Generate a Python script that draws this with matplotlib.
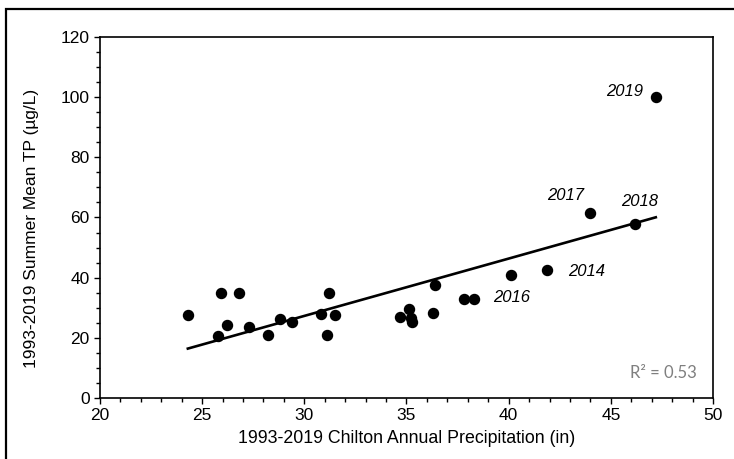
import numpy as np
import matplotlib.pyplot as plt
from matplotlib.patches import Rectangle
from matplotlib.ticker import MultipleLocator

plt.rcParams['font.family'] = ['Liberation Sans', 'DejaVu Sans']

# annual precipitation (in) and summer mean TP (ug/L), 1993-2019
precip = [24.3, 25.9, 26.8, 26.2, 25.8, 27.3, 28.2, 28.8, 29.4, 30.8, 31.2, 31.5, 31.1,
          34.7, 35.1, 35.25, 35.2, 36.4, 36.3, 37.8, 38.3, 40.1, 41.9, 44.0, 46.2, 47.2]
tp = [27.6, 35.0, 35.0, 24.2, 20.6, 23.5, 20.9, 26.2, 25.3, 27.9, 34.8, 27.5, 20.9,
      27.0, 29.5, 25.4, 26.5, 37.5, 28.2, 32.9, 32.9, 40.8, 42.7, 61.4, 57.8, 99.9]

year_labels = ['2019', '2017', '2018', '2014', '2016']
label_x = [44.75, 41.9, 45.5, 42.9, 39.25]
label_y = [101.8, 67.2, 65.2, 41.9, 33.3]

fig = plt.figure(figsize=(7.34, 4.59), dpi=100)
ax = fig.add_axes([0.1362, 0.1329, 0.9714 - 0.1362, 0.9194 - 0.1329])

# outer frame of the figure box (runs past the right and bottom edges)
fig.patches.append(Rectangle((6 / 734, -0.1), 1.2, 1 - 9 / 459 + 0.1, transform=fig.transFigure,
                             fill=False, edgecolor='black', linewidth=1.6, clip_on=False))

ax.scatter(precip, tp, s=52, color='black', zorder=3)

m, b = np.polyfit(precip, tp, 1)
xs = np.array([min(precip), max(precip)])
ax.plot(xs, m * xs + b, color='black', linewidth=1.9, zorder=2)

for t, lx, ly in zip(year_labels, label_x, label_y):
    ax.text(lx, ly, t, fontsize=12, style='italic', ha='left', va='center')

ax.text(0.973, 0.069, 'R² = 0.53', transform=ax.transAxes, ha='right', va='center',
        fontsize=12, color='#7f7f7f', family=['Lato', 'DejaVu Sans'])

ax.set_xlim(20, 50)
ax.set_ylim(0, 120)
ax.xaxis.set_major_locator(MultipleLocator(5))
ax.xaxis.set_minor_locator(MultipleLocator(1))
ax.yaxis.set_major_locator(MultipleLocator(20))
ax.yaxis.set_minor_locator(MultipleLocator(5))
ax.tick_params(which='major', direction='out', length=4.5, width=1, labelsize=12.5, pad=3)
ax.tick_params(which='minor', direction='out', length=3, width=1)
for s in ax.spines.values():
    s.set_linewidth(1.2)

ax.set_xlabel('1993-2019 Chilton Annual Precipitation (in)', fontsize=12.8, labelpad=5)
ax.set_ylabel('1993-2019 Summer Mean TP (µg/L)', fontsize=12.5)
ax.yaxis.set_label_coords(-0.099, 0.47)

fig.savefig('out.png', dpi=100)
